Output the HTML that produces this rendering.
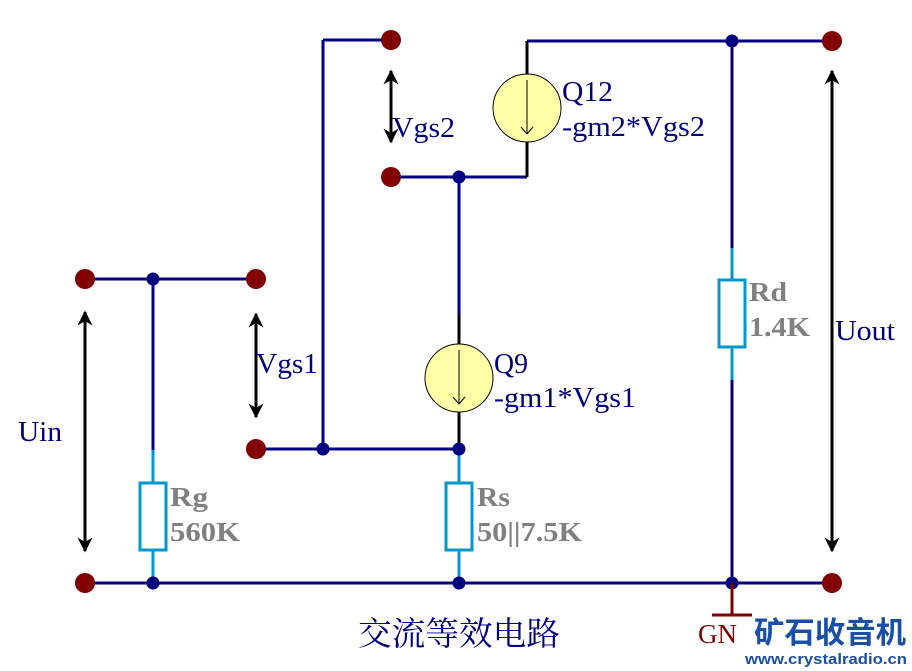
<!DOCTYPE html>
<html><head><meta charset="utf-8"><style>
html,body{margin:0;padding:0;background:#fff}
svg{display:block}
.t{font-family:"Liberation Serif","Noto Serif CJK SC",serif;fill:#000080;font-size:28px}
.g{font-family:"Liberation Serif",serif;fill:#808080;font-size:27px;font-weight:bold}
</style></head><body>
<svg width="912" height="671" viewBox="0 0 912 671" xmlns="http://www.w3.org/2000/svg">
<defs>
<marker id="ah" viewBox="0 0 10 10" refX="9" refY="5" markerWidth="5" markerHeight="5" orient="auto-start-reverse">
<path d="M0,0 L10,5 L0,10 L3,5 z" fill="#000"/></marker>
</defs>
<g stroke="#000080" stroke-width="3" fill="none">
<path d="M323,40 H391 M323,40 V449 M527,41 H832 M391,177 H527 M459,177 V315 M256,449 H459 M85,583 H832 M85,279 H256 M153,279 V450 M732,41 V248 M732,380 V583"/>
</g>
<g stroke="#000" stroke-width="3">
<path d="M527,41 V74 M527,142 V177 M459,315 V345 M459,411 V449"/>
</g>
<g stroke="#0099cc" stroke-width="3" fill="#fff">
<path d="M153,450 V483 M153,550 V583 M459,449 V483 M459,550 V583 M732,248 V280 M732,347 V380" fill="none"/>
<rect x="140" y="483" width="26" height="67"/>
<rect x="446" y="483" width="26" height="67"/>
<rect x="719" y="280" width="26" height="67"/>
</g>
<g stroke="#000" stroke-width="1" fill="#ffffa8">
<circle cx="527" cy="108" r="34"/>
<circle cx="459" cy="378" r="34"/>
</g>
<g stroke="#000" stroke-width="1" fill="none">
<path d="M527,80 V134 M521,127 L527,134 L533,127"/>
<path d="M459,350 V404 M453,397 L459,404 L465,397"/>
</g>
<g stroke="#000" stroke-width="3" marker-start="url(#ah)" marker-end="url(#ah)">
<line x1="85" y1="312" x2="85" y2="551"/>
<line x1="256" y1="314" x2="256" y2="417"/>
<line x1="391" y1="71" x2="391" y2="142"/>
<line x1="832" y1="71" x2="832" y2="551"/>
</g>
<g fill="#800000">
<circle cx="391" cy="40" r="10"/><circle cx="832" cy="41" r="10"/>
<circle cx="391" cy="177" r="10"/><circle cx="85" cy="279" r="10"/>
<circle cx="256" cy="279" r="10"/><circle cx="256" cy="449" r="10"/>
<circle cx="85" cy="583" r="10"/><circle cx="832" cy="583" r="10"/>
</g>
<g fill="#000080">
<circle cx="732" cy="41" r="6.5"/><circle cx="459" cy="177" r="6.5"/>
<circle cx="153" cy="279" r="6.5"/><circle cx="323" cy="449" r="6.5"/>
<circle cx="459" cy="449" r="6.5"/><circle cx="153" cy="583" r="6.5"/>
<circle cx="459" cy="583" r="6.5"/><circle cx="732" cy="583" r="6.5"/>
</g>
<path d="M732,583 V615 M712,615 H752" stroke="#800000" stroke-width="3"/>
<text x="698" y="643" font-family="Liberation Serif,serif" font-size="27" fill="#800000">GN</text>
<text class="t" x="18" y="441" textLength="44" lengthAdjust="spacingAndGlyphs">Uin</text>
<text class="t" x="256" y="373" textLength="62" lengthAdjust="spacingAndGlyphs">Vgs1</text>
<text class="t" x="392" y="137" textLength="63" lengthAdjust="spacingAndGlyphs">Vgs2</text>
<text class="t" x="562" y="101" textLength="51" lengthAdjust="spacingAndGlyphs">Q12</text>
<text class="t" x="562" y="136" textLength="143" lengthAdjust="spacingAndGlyphs">-gm2*Vgs2</text>
<text class="t" x="494" y="373" textLength="34" lengthAdjust="spacingAndGlyphs">Q9</text>
<text class="t" x="494" y="407" textLength="142" lengthAdjust="spacingAndGlyphs">-gm1*Vgs1</text>
<text class="t" x="835" y="340" textLength="60" lengthAdjust="spacingAndGlyphs">Uout</text>
<text class="g" x="749" y="301" textLength="38" lengthAdjust="spacingAndGlyphs">Rd</text>
<text class="g" x="749" y="336" textLength="61" lengthAdjust="spacingAndGlyphs">1.4K</text>
<text class="g" x="170" y="506" textLength="38" lengthAdjust="spacingAndGlyphs">Rg</text>
<text class="g" x="170" y="541" textLength="70" lengthAdjust="spacingAndGlyphs">560K</text>
<text class="g" x="477" y="506" textLength="33" lengthAdjust="spacingAndGlyphs">Rs</text>
<text class="g" x="477" y="541" textLength="105" lengthAdjust="spacingAndGlyphs">50||7.5K</text>
<text class="t" x="358" y="645" textLength="202" lengthAdjust="spacingAndGlyphs" style="font-size:33px;font-family:'Noto Serif CJK SC',serif">交流等效电路</text>
<text x="754" y="643" font-family="Noto Sans CJK SC,sans-serif" font-weight="bold" font-size="30" fill="#1a4fa8" textLength="152" lengthAdjust="spacingAndGlyphs">矿石收音机</text>
<text x="745" y="664" font-family="Liberation Sans,sans-serif" font-weight="bold" font-size="15" fill="#1a4fa8" textLength="162" lengthAdjust="spacingAndGlyphs">www.crystalradio.cn</text>
</svg>
</body></html>
